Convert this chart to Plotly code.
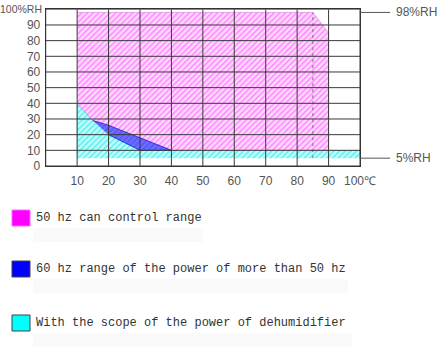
import plotly.graph_objects as go

# ---- data ----
x_ticks = [10, 20, 30, 40, 50, 60, 70, 80, 90, 100]
x_ticktext = ["10", "20", "30", "40", "50", "60", "70", "80", "90", "100℃"]
y_ticks = [0, 10, 20, 30, 40, 50, 60, 70, 80, 90, 100]
y_ticktext = ["0", "10", "20", "30", "40", "50", "60", "70", "80", "90", "100%RH"]

# 50 Hz control range (temperature, %RH)
mag_x = [10, 85, 90, 90, 40, 15, 10]
mag_y = [98, 98, 85, 10, 10, 29, 40]
# 60 Hz extra range
blue_x = [15, 20, 40, 30, 20]
blue_y = [29, 26, 10, 10, 20]
# dehumidifier range
cyan_x = [10, 10, 15, 20, 30, 100, 100]
cyan_y = [5, 40, 29, 20, 10, 10, 5]

limit_vals = [98, 5]
limit_text = ["98%RH", "5%RH"]
divider_x = 85

legend_labels = ["50 hz can control range",
                 "60 hz range of the power of more than 50 hz",
                 "With the scope of the power of dehumidifier"]
legend_colors = ["#ff00ff", "#0000ff", "#00ffff"]

W, H = 440, 348
X0, X1 = 45.7, 360.0   # plot area pixel bounds
Y0, Y1 = 9.3, 166.0
def px(x):
    return x / W
def py(y):
    return 1 - y / H
def vy(v):  # data y -> paper
    return py(Y1 - (Y1 - Y0) * v / 100)

fig = go.Figure()

fig.add_trace(go.Scatter(
    x=cyan_x, y=cyan_y, fill="toself", mode="lines",
    line=dict(color="#40d8d8", width=0.5),
    fillpattern=dict(shape="/", fgcolor="#00e0e0", bgcolor="#c4ffff", size=4, solidity=0.45),
    hoverinfo="skip", showlegend=False))
fig.add_trace(go.Scatter(
    x=mag_x, y=mag_y, fill="toself", mode="lines",
    line=dict(color="#d060d0", width=0.5),
    fillpattern=dict(shape="/", fgcolor="#ff40ff", bgcolor="#ffdcff", size=4, solidity=0.45),
    hoverinfo="skip", showlegend=False))
fig.add_trace(go.Scatter(
    x=blue_x, y=blue_y, fill="toself", mode="lines",
    line=dict(color="#2020c0", width=0.8),
    fillpattern=dict(shape="/", fgcolor="#4040ff", bgcolor="#7070ff", size=4, solidity=0.5),
    hoverinfo="skip", showlegend=False))

# divider line
fig.add_trace(go.Scatter(
    x=[divider_x, divider_x], y=[min(cyan_y), max(mag_y)], mode="lines",
    line=dict(color="#777777", width=1, dash="dot"),
    hoverinfo="skip", showlegend=False))

shapes = []
# grid lines above the fills
for v in range(0, 101, 10):
    shapes.append(dict(type="line", xref="x", yref="y", x0=v, x1=v, y0=0, y1=100,
                       line=dict(color="#3a3a3a", width=1), layer="above"))
    shapes.append(dict(type="line", xref="x", yref="y", x0=0, x1=100, y0=v, y1=v,
                       line=dict(color="#3a3a3a", width=1), layer="above"))

annotations = []
# top y label drawn as annotation so it fits the left edge
annotations.append(dict(x=px(X0 - 1.5), y=vy(y_ticks[-1]), xref="paper", yref="paper",
                        text=y_ticktext[-1], showarrow=False, xanchor="right", yanchor="middle",
                        font=dict(family="Liberation Sans", size=10.5, color="#555555")))
# limit lines to the right
for v, t in zip(limit_vals, limit_text):
    shapes.append(dict(type="line", xref="paper", yref="paper", x0=px(X1), x1=px(390),
                       y0=vy(v), y1=vy(v), line=dict(color="#555555", width=1)))
    annotations.append(dict(x=px(394), y=vy(v), xref="paper", yref="paper", text=t, showarrow=False,
                            xanchor="left", yanchor="middle",
                            font=dict(family="Liberation Sans", size=12, color="#555555")))

# custom legend
leg_y = [218, 269, 323]
bg_w = [170, 315, 319]
for lab, col, yc, bw in zip(legend_labels, legend_colors, leg_y, bg_w):
    shapes.append(dict(type="rect", xref="paper", yref="paper",
                       x0=px(33), x1=px(33 + bw), y0=py(yc + 10), y1=py(yc + 24),
                       fillcolor="#fafafa", line=dict(width=0), layer="below"))
    shapes.append(dict(type="rect", xref="paper", yref="paper",
                       x0=px(12), x1=px(30), y0=py(yc + 8), y1=py(yc - 8),
                       fillcolor=col, line=dict(color="#444444" if col != "#ff00ff" else "#ff66ff", width=1)))
    annotations.append(dict(x=px(34), y=py(yc), xref="paper", yref="paper", text=lab,
                            showarrow=False, xanchor="left", yanchor="middle",
                            font=dict(family="Liberation Mono", size=12, color="#333333")))

fig.update_layout(
    width=W, height=H,
    margin=dict(l=0, r=0, t=0, b=0, autoexpand=False),
    paper_bgcolor="white", plot_bgcolor="white",
    shapes=shapes, annotations=annotations,
    xaxis=dict(domain=[px(X0), px(X1)], range=[0, 100], tickvals=x_ticks, ticktext=x_ticktext,
               showgrid=False, zeroline=False, showline=True, linecolor="#333333", mirror=True,
               ticks="", ticklen=0, ticklabelstandoff=4, automargin=False,
               tickfont=dict(family="Liberation Sans", size=12, color="#555555")),
    yaxis=dict(domain=[py(Y1), py(Y0)], range=[0, 100], tickvals=y_ticks[:-1], ticktext=y_ticktext[:-1],
               showgrid=False, zeroline=False, showline=True, linecolor="#333333", mirror=True,
               ticks="", ticklen=0, ticklabelstandoff=2, automargin=False,
               tickfont=dict(family="Liberation Sans", size=12, color="#555555")),
)

fig.write_html("out.html")
